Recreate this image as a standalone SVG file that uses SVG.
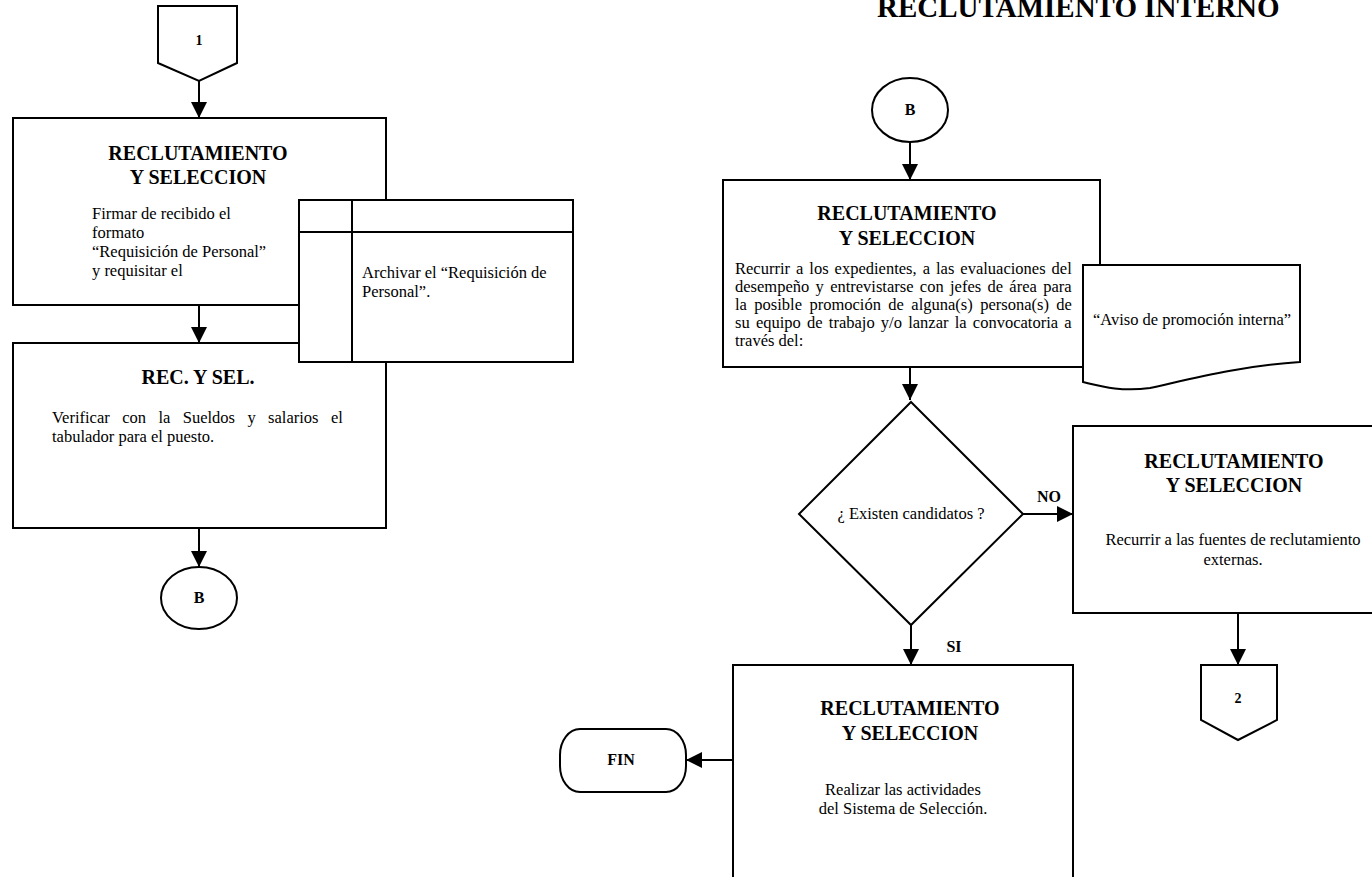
<svg xmlns="http://www.w3.org/2000/svg" width="1372" height="877" viewBox="0 0 1372 877">
  <style>
    .shape { fill: #ffffff; stroke: #000000; stroke-width: 2; }
    .edge { fill: none; stroke: #000000; stroke-width: 2; }
    .head { font-family: "Liberation Serif", "Times New Roman", serif; font-weight: bold; font-size: 20px; fill: #000; text-anchor: middle; }
    .body { font-family: "Liberation Serif", "Times New Roman", serif; font-size: 16.5px; fill: #000; }
    .mid { text-anchor: middle; }
    .tag { font-family: "Liberation Serif", "Times New Roman", serif; font-weight: bold; font-size: 16px; fill: #000; text-anchor: middle; }
    .title { font-family: "Liberation Serif", "Times New Roman", serif; font-weight: bold; font-size: 29px; fill: #000; }
  </style>
  <defs>
    <marker id="arrow" viewBox="0 0 16 16" markerWidth="16" markerHeight="16" refX="16" refY="8" orient="auto" markerUnits="userSpaceOnUse">
      <path d="M0,0 L16,8 L0,16 z" fill="#000"/>
    </marker>
  </defs>
  <rect width="1372" height="877" fill="#ffffff"/>

  <text class="title" x="877" y="17">RECLUTAMIENTO INTERNO</text>

  <!-- connectors -->
  <g id="connectors">
    <path class="edge" d="M199,81 V118" marker-end="url(#arrow)"/>
    <path class="edge" d="M199,305 V343" marker-end="url(#arrow)"/>
    <path class="edge" d="M199,528 V567" marker-end="url(#arrow)"/>
    <path class="edge" d="M910,142 V180" marker-end="url(#arrow)"/>
    <path class="edge" d="M910,367 V400" marker-end="url(#arrow)"/>
    <path class="edge" d="M1023,514 H1073" marker-end="url(#arrow)"/>
    <path class="edge" d="M911,625 V665" marker-end="url(#arrow)"/>
    <path class="edge" d="M1238,613 V665" marker-end="url(#arrow)"/>
    <path class="edge" d="M733,760 H686" marker-end="url(#arrow)"/>
    <text class="tag" x="1049" y="502">NO</text>
    <text class="tag" x="954" y="652">SI</text>
  </g>

  <!-- left column -->
  <g id="offpage-1">
    <path class="shape" d="M158,6 H237 V63 L199,81 L158,63 Z"/>
    <text class="tag" x="199" y="45" style="font-size:14px">1</text>
  </g>

  <g id="firmar-requisicion">
    <rect class="shape" x="13" y="118" width="373" height="187"/>
    <text class="head" x="198" y="160">RECLUTAMIENTO</text>
    <text class="head" x="198" y="184">Y SELECCION</text>
    <text class="body" x="92" y="219">Firmar de recibido el</text>
    <text class="body" x="92" y="238">formato</text>
    <text class="body" x="92" y="257">“Requisición de Personal”</text>
    <text class="body" x="92" y="276">y requisitar el</text>
  </g>

  <g id="verificar-tabulador">
    <rect class="shape" x="13" y="343" width="373" height="185"/>
    <text class="head" x="198" y="384">REC. Y SEL.</text>
    <text class="body" x="52" y="423" word-spacing="8.3">Verificar con la Sueldos y salarios el</text>
    <text class="body" x="52" y="442">tabulador para el puesto.</text>
  </g>

  <g id="archivo-requisicion">
    <rect class="shape" x="299" y="200" width="274" height="162"/>
    <path class="edge" d="M352,200 V362 M299,232 H573"/>
    <text class="body" x="362" y="278">Archivar el “Requisición de</text>
    <text class="body" x="362" y="297">Personal”.</text>
  </g>

  <g id="connector-b-out">
    <ellipse class="shape" cx="199" cy="598" rx="38" ry="31"/>
    <text class="tag" x="199" y="603">B</text>
  </g>

  <!-- right column -->
  <g id="connector-b-in">
    <ellipse class="shape" cx="910" cy="110" rx="38" ry="32"/>
    <text class="tag" x="910" y="115">B</text>
  </g>

  <g id="buscar-candidatos">
    <rect class="shape" x="723" y="180" width="377" height="187"/>
    <text class="head" x="907" y="220">RECLUTAMIENTO</text>
    <text class="head" x="907" y="245">Y SELECCION</text>
    <text class="body" x="735" y="274" word-spacing="1.9">Recurrir a los expedientes, a las evaluaciones del</text>
    <text class="body" x="735" y="292" word-spacing="2.2">desempeño y entrevistarse con jefes de área para</text>
    <text class="body" x="735" y="310" word-spacing="3.3">la posible promoción de alguna(s) persona(s) de</text>
    <text class="body" x="735" y="328" word-spacing="2.1">su equipo de trabajo y/o lanzar la convocatoria a</text>
    <text class="body" x="735" y="346">través del:</text>
  </g>

  <g id="aviso-promocion">
    <path class="shape" d="M1083,265 H1300 V362 C1240,366 1195,378 1150,388 C1120,392 1100,386 1083,382 Z"/>
    <text class="body mid" x="1192" y="325">“Aviso de promoción interna”</text>
  </g>

  <g id="existen-candidatos">
    <path class="shape" d="M911,402 L1023,514 L911,625 L799,514 Z"/>
    <text class="body mid" x="911" y="519">¿ Existen candidatos ?</text>
  </g>

  <g id="fuentes-externas">
    <rect class="shape" x="1073" y="426" width="330" height="187"/>
    <text class="head" x="1234" y="468">RECLUTAMIENTO</text>
    <text class="head" x="1234" y="492">Y SELECCION</text>
    <text class="body mid" x="1233" y="545">Recurrir a las fuentes de reclutamiento</text>
    <text class="body mid" x="1233" y="565">externas.</text>
  </g>

  <g id="offpage-2">
    <path class="shape" d="M1201,665 H1277 V720 L1238,740 L1201,720 Z"/>
    <text class="tag" x="1238" y="703" style="font-size:14px">2</text>
  </g>

  <g id="sistema-seleccion">
    <rect class="shape" x="733" y="665" width="340" height="215"/>
    <text class="head" x="910" y="715">RECLUTAMIENTO</text>
    <text class="head" x="910" y="740">Y SELECCION</text>
    <text class="body mid" x="903" y="795">Realizar las actividades</text>
    <text class="body mid" x="903" y="814">del Sistema de Selección.</text>
  </g>

  <g id="fin">
    <rect class="shape" x="560" y="729" width="126" height="63" rx="20" ry="26"/>
    <text class="tag" x="621" y="765">FIN</text>
  </g>
</svg>
